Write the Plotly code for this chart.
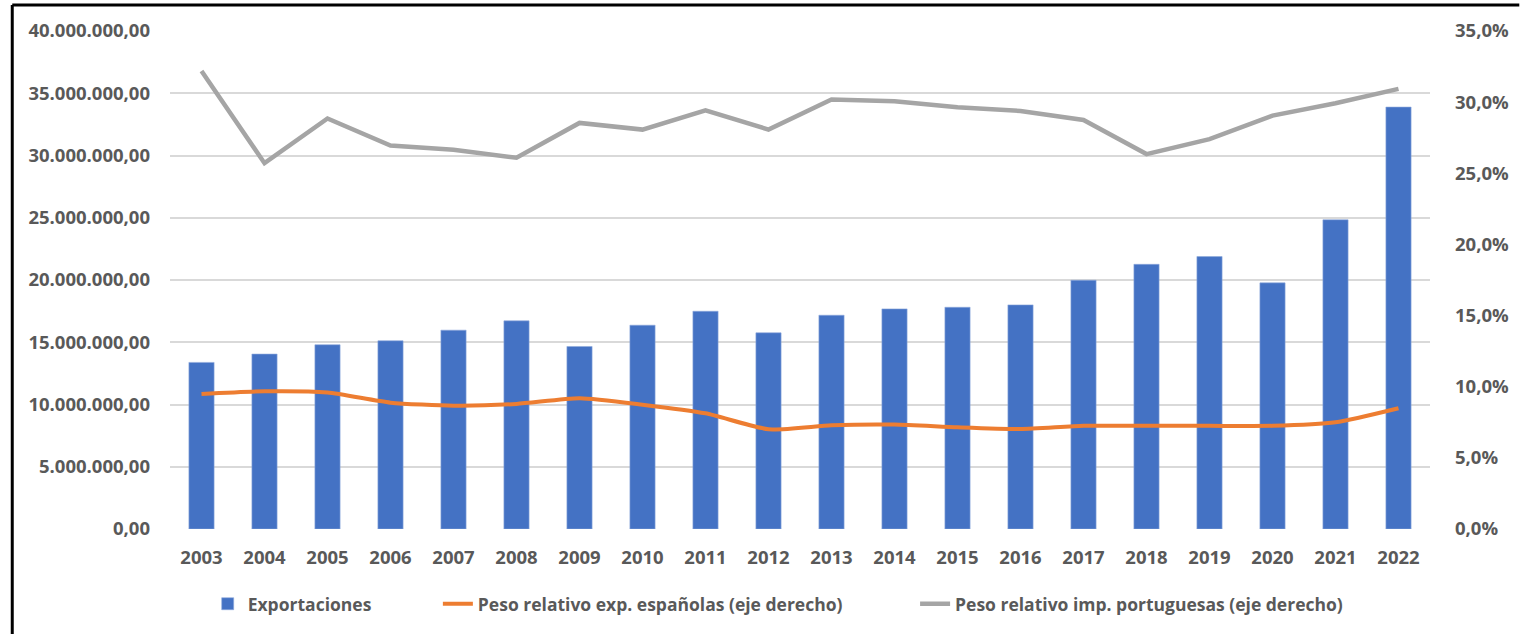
import plotly.graph_objects as go

years = ["2003", "2004", "2005", "2006", "2007", "2008", "2009", "2010", "2011", "2012",
         "2013", "2014", "2015", "2016", "2017", "2018", "2019", "2020", "2021", "2022"]

exportaciones = [13380000, 14050000, 14800000, 15120000, 15970000, 16720000, 14660000,
                 16370000, 17490000, 15760000, 17170000, 17680000, 17810000, 18000000,
                 19980000, 21260000, 21880000, 19770000, 24840000, 33890000]

peso_exp_esp = [9.49, 9.68, 9.59, 8.88, 8.67, 8.79, 9.19, 8.74, 8.13, 7.01,
                7.29, 7.34, 7.15, 7.03, 7.25, 7.25, 7.25, 7.25, 7.50, 8.49]

peso_imp_por = [32.19, 25.71, 28.85, 26.95, 26.65, 26.09, 28.54, 28.07, 29.43, 28.07,
                30.18, 30.06, 29.64, 29.38, 28.75, 26.35, 27.40, 29.05, 29.92, 30.93]

left_ticks = [0, 5000000, 10000000, 15000000, 20000000, 25000000, 30000000, 35000000, 40000000]
right_ticks = [0, 0.05, 0.10, 0.15, 0.20, 0.25, 0.30, 0.35]

FONT = "Open Sans"
TXT = "#595959"

fig = go.Figure()

fig.add_trace(go.Bar(
    x=years, y=exportaciones, name="Exportaciones",
    marker=dict(color="#4472C4", line=dict(color="#8FAADC", width=0.6)),
    legend="legend",
))
fig.add_trace(go.Scatter(
    x=years, y=[v / 100 for v in peso_exp_esp], name="Peso relativo exp. españolas (eje derecho)",
    mode="lines", line=dict(color="#ED7D31", width=4, shape="spline", smoothing=0.6),
    yaxis="y2", legend="legend2",
))
fig.add_trace(go.Scatter(
    x=years, y=[v / 100 for v in peso_imp_por], name="Peso relativo imp. portuguesas (eje derecho)",
    mode="lines", line=dict(color="#A5A5A5", width=4.5),
    yaxis="y2", legend="legend3",
))

L, R, T, B = 170, 81, 31, 104
W, H = 1521, 634
pw, ph = W - L - R, H - T - B

def px_x(px):
    return (px - L) / pw

def px_y(py):
    return (H - B - py) / ph

legend_font = dict(family=FONT, size=17.5, color=TXT, weight="bold")
leg_common = dict(orientation="h", xanchor="left", yanchor="middle", y=px_y(605),
                  font=legend_font, bgcolor="rgba(0,0,0,0)", borderwidth=0)
tick_font = dict(family=FONT, size=18.5, color=TXT, weight="bold")

fig.update_layout(
    width=W, height=H,
    margin=dict(l=L, r=R, t=T, b=B, pad=0),
    paper_bgcolor="white", plot_bgcolor="white",
    separators=",.",
    bargap=0.6,
    font=dict(family=FONT, color=TXT),
    xaxis=dict(
        type="category", showgrid=False, zeroline=False, showline=False,
        ticks="", tickfont=tick_font, ticklabelstandoff=15,
    ),
    yaxis=dict(
        range=[0, 40000000], tickvals=left_ticks, tickformat=",.2f",
        showgrid=True, gridcolor="#D9D9D9", gridwidth=1.5, zeroline=False, showline=False,
        ticks="", tickfont=tick_font, ticklabelstandoff=19,
    ),
    yaxis2=dict(
        range=[0, 0.35], tickvals=right_ticks, tickformat=".1%",
        overlaying="y", side="right", showgrid=False, zeroline=False, showline=False,
        ticks="", tickfont=tick_font, ticklabelstandoff=24,
    ),
    legend=dict(x=px_x(208), **leg_common),
    legend2=dict(x=px_x(440), **leg_common),
    legend3=dict(x=px_x(921), **leg_common),
    showlegend=True,
    shapes=[
        dict(type="line", xref="paper", yref="paper", x0=px_x(11), x1=px_x(11),
             y0=px_y(5), y1=px_y(640), line=dict(color="black", width=3)),
        dict(type="line", xref="paper", yref="paper", x0=px_x(11), x1=px_x(1530),
             y0=px_y(5), y1=px_y(5), line=dict(color="black", width=3)),
    ],
)

fig.write_html("out.html", config={"displayModeBar": False},
               post_script="document.body.style.margin='0';document.body.style.overflow='hidden';")
